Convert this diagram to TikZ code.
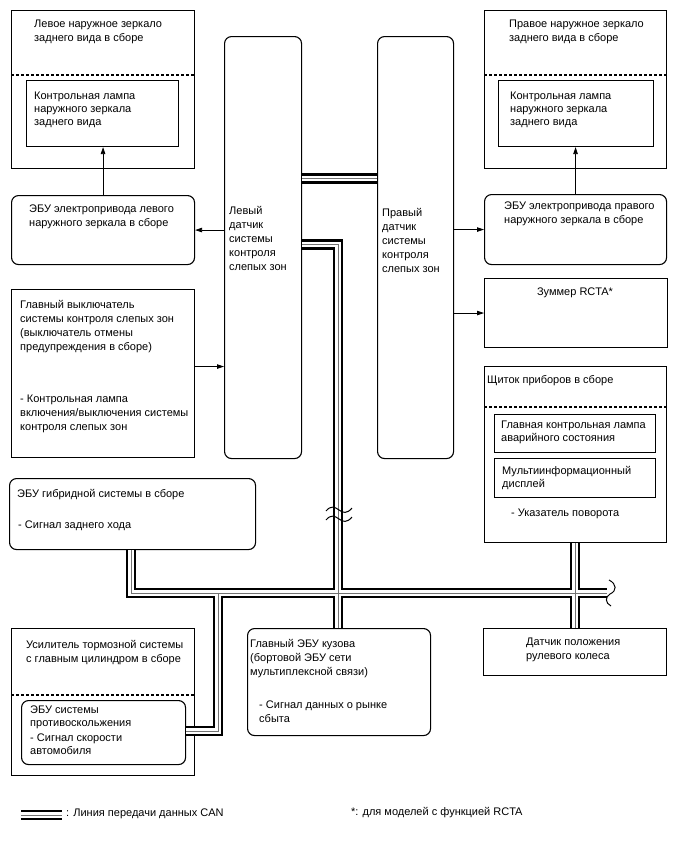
\documentclass[tikz,border=0pt]{standalone}
\usepackage{fontspec}
\setmainfont{Liberation Sans}
\usetikzlibrary{positioning,arrows.meta,calc}
\tikzset{
  unitbox/.style={draw, line width=1.1pt, inner sep=0pt, anchor=north west},
  ecubox/.style={unitbox, rounded corners=7pt},
  unittext/.style={align=left, inner sep=0pt, anchor=north west, font=\fontsize{11}{14}\selectfont},
  innertext/.style={unittext, font=\fontsize{11}{13}\selectfont},
  sigarrow/.style={-{Triangle[length=7pt,width=4.5pt]}, line width=0.8pt},
  subline/.style={dash pattern=on 3pt off 2pt, line width=1.1pt},
  canouter/.style={line width=10.5pt, black},
  caninner/.style={line width=5.5pt, white},
  cancore/.style={line width=0.8pt, black!55},
  canbreak/.style={line width=1pt},
}

\begin{document}
\begin{tikzpicture}[x=1pt, y=-1pt]
  \useasboundingbox (0,0) rectangle (688,852);
  % левое зеркало
  \node[unitbox, minimum width=183pt, minimum height=158pt] (lmir) at (11,10) {};
  \node[unittext] (lmirt) at (34,20) {Левое наружное зеркало\\заднего вида в сборе};
  \draw[subline] (lmir.west |- 0,75) -- (lmir.east |- 0,75);
  \node[unitbox, minimum width=152pt, minimum height=66pt] (lmirlamp) at (26,80) {};
  \node[innertext] (lmirlampt) at (34,92) {Контрольная лампа\\наружного зеркала\\заднего вида};
  \node[ecubox, minimum width=183pt, minimum height=69pt] (lecu) at (11,195) {};
  \node[unittext] (lecut) at (29,205) {ЭБУ электропривода левого\\наружного зеркала в сборе};
  % датчики
  \node[ecubox, minimum width=77pt, minimum height=422pt] (lsen) at (224,36) {};
  \node[unittext] (lsent) at (229,206) {Левый\\датчик\\системы\\контроля\\слепых зон};
  \node[ecubox, minimum width=76pt, minimum height=422pt] (rsen) at (377,36) {};
  \node[unittext] (rsent) at (382,208) {Правый\\датчик\\системы\\контроля\\слепых зон};
  % правое зеркало
  \node[unitbox, minimum width=182pt, minimum height=158pt] (rmir) at (484,10) {};
  \node[unittext] (rmirt) at (509,20) {Правое наружное зеркало\\заднего вида в сборе};
  \draw[subline] (rmir.west |- 0,75) -- (rmir.east |- 0,75);
  \node[unitbox, minimum width=155pt, minimum height=66pt] (rmirlamp) at (498,80) {};
  \node[innertext] (rmirlampt) at (510,92) {Контрольная лампа\\наружного зеркала\\заднего вида};
  \node[ecubox, minimum width=182pt, minimum height=70pt] (recu) at (484,194) {};
  \node[unittext] (recut) at (504,202) {ЭБУ электропривода правого\\наружного зеркала в сборе};
  \node[unitbox, minimum width=183pt, minimum height=69pt] (buzz) at (484,278) {};
  \node[unittext, anchor=north] (buzzt) at (575,288) {Зуммер RCTA*};
  % щиток приборов
  \node[unitbox, minimum width=182pt, minimum height=176pt] (ipc) at (484,366) {};
  \node[unittext] (ipct) at (487,375) {Щиток приборов в сборе};
  \draw[subline] (ipc.west |- 0,407) -- (ipc.east |- 0,407);
  \node[unitbox, minimum width=161pt, minimum height=38pt] (ipchaz) at (494,414) {};
  \node[innertext] (ipchazt) at (501,421) {Главная контрольная лампа\\аварийного состояния};
  \node[unitbox, minimum width=161pt, minimum height=39pt] (ipcmid) at (494,458) {};
  \node[innertext] (ipcmidt) at (502,466) {Мультиинформационный\\дисплей};
  \node[unittext] (ipcsig) at (511,509) {- Указатель поворота};
  % выключатель
  \node[unitbox, minimum width=183pt, minimum height=168pt] (mswt) at (11,289) {};
  \node[unittext] (mswtt) at (20,300) {Главный выключатель\\системы контроля слепых зон\\(выключатель отмены\\предупреждения в сборе)};
  \node[unittext] (mswtsig) at (20,395) {- Контрольная лампа\\включения/выключения системы\\контроля слепых зон};
  % гибридная система
  \node[ecubox, minimum width=246pt, minimum height=71pt] (hyb) at (9,478) {};
  \node[unittext] (hybt) at (17,489) {ЭБУ гибридной системы в сборе};
  \node[unittext] (hybsig) at (18,521) {- Сигнал заднего хода};
  % тормоза
  \node[unitbox, minimum width=183pt, minimum height=147pt] (bbst) at (11,628) {};
  \node[unittext] (bbstt) at (26,640) {Усилитель тормозной системы\\с главным цилиндром в сборе};
  \draw[subline] (bbst.west |- 0,695) -- (bbst.east |- 0,695);
  \node[ecubox, minimum width=164pt, minimum height=64pt] (bcu) at (21,700) {};
  \node[innertext] (bcut) at (30,706) {ЭБУ системы\\противоскольжения\\[2pt]- Сигнал скорости\\автомобиля};
  % кузов, руль
  \node[ecubox, minimum width=183pt, minimum height=107pt] (body) at (247,628) {};
  \node[unittext] (bodyt) at (250,639) {Главный ЭБУ кузова\\(бортовой ЭБУ сети\\мультиплексной связи)};
  \node[unittext] (bodysig) at (259,701) {- Сигнал данных о рынке\\сбыта};
  \node[unitbox, minimum width=183pt, minimum height=47pt] (ster) at (483,628) {};
  \node[unittext] (stert) at (526,638) {Датчик положения\\рулевого колеса};
  % сигналы
  \draw[sigarrow] (lecu.north) -- (lecu.north |- lmirlamp.south);
  \draw[sigarrow] (recu.north) -- (recu.north |- rmirlamp.south);
  \draw[sigarrow] (lsen.west |- lecu.east) -- (lecu.east);
  \draw[sigarrow] (rsen.east |- recu.west) -- (recu.west);
  \draw[sigarrow] (rsen.east |- buzz.west) -- (buzz.west);
  \draw[sigarrow] ([yshift=7pt]mswt.east) -- ([yshift=7pt]mswt.east -| lsen.west);
  % шина CAN
  \coordinate (canA) at (339,178.5);
  \coordinate (canB) at (338,244.5);
  \coordinate (canC) at (131,593);
  \coordinate (canD) at (607,593);
  \coordinate (canE) at (218,731);
  \coordinate (canF) at (575,593);
  \foreach \layer in {canouter,caninner,cancore}{
    \draw[\layer] (lsen.east |- canA) -- (rsen.west |- canA);
    \draw[\layer] (lsen.east |- canB) -- (canB) -- (canB |- body.north);
    \draw[\layer] (canC |- hyb.south) -- (canC) -- (canD);
    \draw[\layer] (canE |- canC) -- (canE) -- (bcu.east |- canE);
    \draw[\layer] (ipc.south -| canF) -- (ster.north -| canF);
    \draw[\layer] (21,815) -- (62,815);
  }
  \draw[canbreak] (326,511) .. controls (331,505) and (335,507) .. (339,510) .. controls (343,513) and (347,514) .. (352,508);
  \draw[canbreak] (326,520) .. controls (331,514) and (335,516) .. (339,519) .. controls (343,522) and (347,523) .. (352,517);
  \draw[canbreak] (609,580) .. controls (617,584) and (617,591) .. (610,594) .. controls (605,597) and (605,603) .. (611,606);
  % легенда
  \node[unittext, anchor=west] (legcan) at (66,814) {: Линия передачи данных CAN};
  \node[unittext, anchor=west] (legrcta) at (351,813) {*: для моделей с функцией RCTA};
\end{tikzpicture}
\end{document}
